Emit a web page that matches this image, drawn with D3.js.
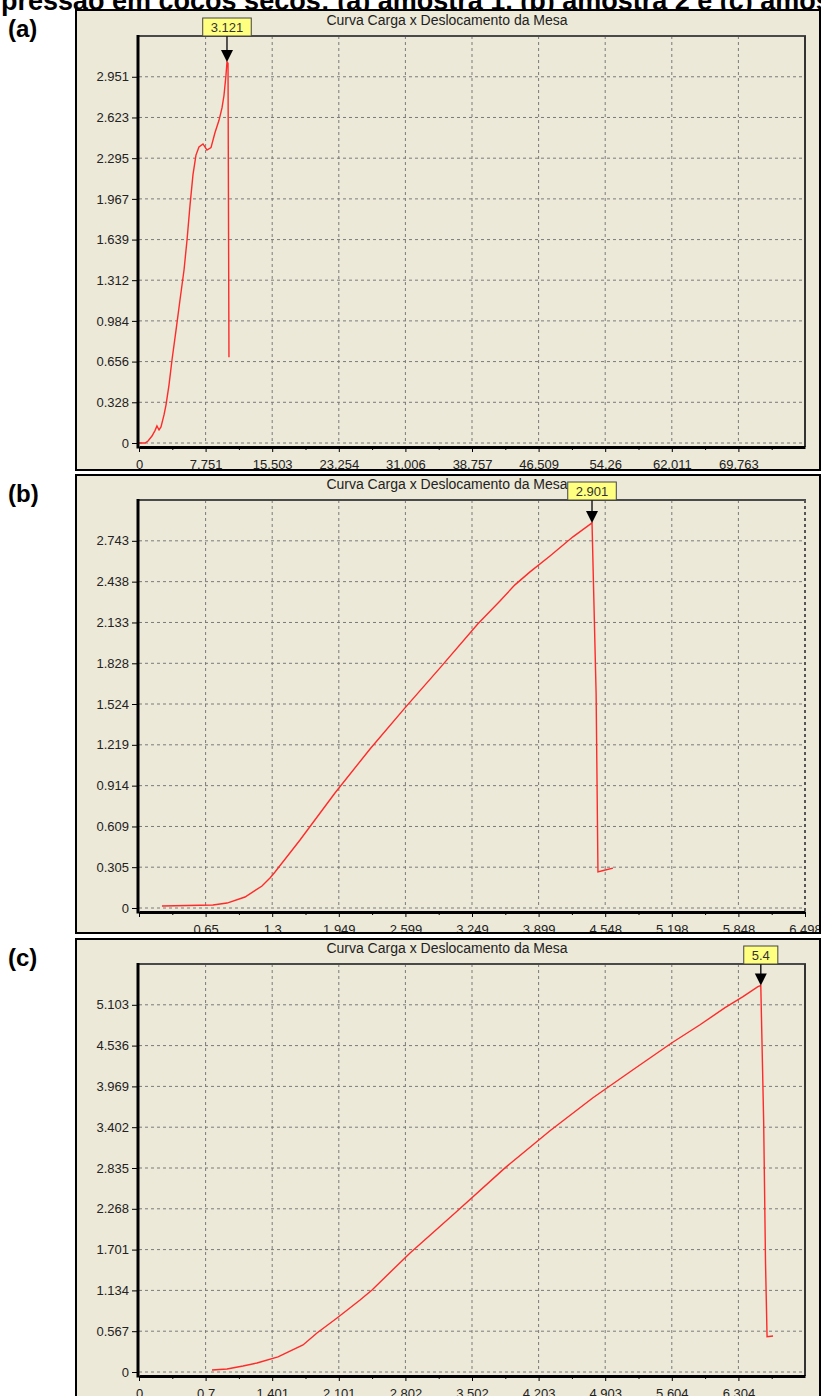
<!DOCTYPE html>
<html>
<head>
<meta charset="utf-8">
<script src="https://cdn.jsdelivr.net/npm/d3@7"></script>
<style>
  body { margin: 0; background: #fff; }
  svg { display: block; }
</style>
</head>
<body>
<div id="chart-area"></div>
<script>
const WIDTH = 821
const HEIGHT = 1396
const FONT = "'Liberation Sans', Arial, sans-serif"

const caption = "pressão em cocos secos: (a) amostra 1, (b) amostra 2 e (c) amostra 3."
const chartTitle = "Curva Carga x Deslocamento da Mesa"

// (a) amostra 1
const xTicksA = ["0", "7.751", "15.503", "23.254", "31.006", "38.757", "46.509", "54.26", "62.011", "69.763"]
const yTicksA = ["0", "0.328", "0.656", "0.984", "1.312", "1.639", "1.967", "2.295", "2.623", "2.951"]
const xMaxA = 77.514
const yMaxA = 3.2795
const peakA = "3.121"
const curveA = [[0, 0], [0.7, 0], [1.05, 0.016], [1.51, 0.056], [1.86, 0.10], [2.09, 0.137], [2.33, 0.105],
  [2.56, 0.13], [2.91, 0.226], [3.14, 0.306], [3.49, 0.467], [3.84, 0.669], [4.31, 0.91], [4.77, 1.152],
  [5.24, 1.394], [5.59, 1.636], [5.94, 1.918], [6.28, 2.16], [6.63, 2.32], [6.98, 2.385], [7.45, 2.41],
  [7.91, 2.36], [8.38, 2.38], [8.84, 2.50], [9.31, 2.60], [9.66, 2.70], [9.89, 2.80], [10.12, 2.96],
  [10.24, 3.07], [10.36, 3.06], [10.47, 0.69]]

// (b) amostra 2
const xTicksB = ["", "0.65", "1.3", "1.949", "2.599", "3.249", "3.899", "4.548", "5.198", "5.848", "6.498"]
const yTicksB = ["0", "0.305", "0.609", "0.914", "1.219", "1.524", "1.828", "2.133", "2.438", "2.743"]
const xMaxB = 6.498
const yMaxB = 3.048
const peakB = "2.901"
const curveB = [[0.224, 0.015], [0.722, 0.022], [0.859, 0.037], [1.034, 0.082], [1.2, 0.164], [1.278, 0.224],
  [1.327, 0.269], [1.571, 0.508], [1.912, 0.859], [2.254, 1.188], [2.595, 1.495], [2.937, 1.794],
  [3.307, 2.123], [3.522, 2.294], [3.668, 2.414], [3.815, 2.511], [4.01, 2.63], [4.234, 2.773],
  [4.42, 2.877], [4.46, 1.6], [4.478, 0.27], [4.53, 0.28], [4.624, 0.298]]

// (c) amostra 3
const xTicksC = ["0", "0.7", "1.401", "2.101", "2.802", "3.502", "4.203", "4.903", "5.604", "6.304"]
const yTicksC = ["0", "0.567", "1.134", "1.701", "2.268", "2.835", "3.402", "3.969", "4.536", "5.103"]
const xMaxC = 7.005
const yMaxC = 5.67
const peakC = "5.4"
const curveC = [[0.768, 0.028], [0.926, 0.042], [1.094, 0.083], [1.241, 0.125], [1.462, 0.209], [1.725, 0.376],
  [1.872, 0.542], [2.083, 0.751], [2.325, 1.001], [2.451, 1.14], [2.851, 1.655], [3.324, 2.211],
  [3.85, 2.837], [4.323, 3.352], [4.775, 3.811], [5.196, 4.2], [5.606, 4.576], [5.901, 4.826],
  [6.164, 5.063], [6.353, 5.216], [6.51, 5.355], [6.54, 5.37], [6.57, 3.5], [6.59, 1.5], [6.606, 0.49],
  [6.669, 0.5]]

const panels = [
  {label: "(a)", top: 10, bottom: 470, plotTop: 36, zeroY: 443, xMax: xMaxA, yMax: yMaxA,
    xTicks: xTicksA, yTicks: yTicksA, curve: curveA, peak: peakA, rightDashed: false},
  {label: "(b)", top: 475, bottom: 933, plotTop: 500, zeroY: 908, xMax: xMaxB, yMax: yMaxB,
    xTicks: xTicksB, yTicks: yTicksB, curve: curveB, peak: peakB, rightDashed: true},
  {label: "(c)", top: 939, bottom: 1402, plotTop: 964, zeroY: 1372, xMax: xMaxC, yMax: yMaxC,
    xTicks: xTicksC, yTicks: yTicksC, curve: curveC, peak: peakC, rightDashed: false}
]

const PLOT_LEFT = 139
const PLOT_RIGHT = 805

const svg = d3.select("#chart-area").append("svg")
  .attr("width", WIDTH)
  .attr("height", HEIGHT)

// caption, cut off by the top of the page
svg.append("text")
  .attr("x", 1)
  .attr("y", 10)
  .attr("font-family", FONT)
  .attr("font-weight", "bold")
  .attr("font-size", 27)
  .attr("fill", "#000")
  .text(caption)

panels.forEach((p, i) => {
  // panel letter
  svg.append("text")
    .attr("x", 8)
    .attr("y", p.top + 27)
    .attr("font-family", FONT)
    .attr("font-weight", "bold")
    .attr("font-size", 24)
    .text(p.label)

  const clipId = "clip" + i
  svg.append("clipPath").attr("id", clipId)
    .append("rect")
    .attr("x", 77).attr("y", p.top + 1)
    .attr("width", 742).attr("height", p.bottom - p.top - 2)

  svg.append("rect")
    .attr("x", 76).attr("y", p.top)
    .attr("width", 744).attr("height", p.bottom - p.top)
    .attr("fill", "#ECE9D8")

  const g = svg.append("g").attr("clip-path", `url(#${clipId})`)

  const x = d3.scaleLinear().domain([0, p.xMax]).range([PLOT_LEFT, PLOT_RIGHT])
  const y = d3.scaleLinear().domain([0, p.yMax]).range([p.zeroY, p.plotTop])
  const axisY = p.zeroY + 4

  const xVals = p.xTicks.map((t, k) => k * p.xMax / 10)
  const yVals = p.yTicks.map(t => +t)

  // title
  g.append("text")
    .attr("x", 447)
    .attr("y", p.plotTop - 11)
    .attr("text-anchor", "middle")
    .attr("font-family", FONT)
    .attr("font-size", 14)
    .attr("fill", "#222")
    .text(chartTitle)

  // grid
  g.selectAll(".hgrid").data(yVals).enter().append("line")
    .attr("x1", PLOT_LEFT).attr("x2", PLOT_RIGHT)
    .attr("y1", d => y(d)).attr("y2", d => y(d))
    .attr("stroke", "#7a7a7a")
    .attr("stroke-dasharray", "3,3")
  g.selectAll(".vgrid").data(xVals.filter(d => d > 0)).enter().append("line")
    .attr("x1", d => x(d)).attr("x2", d => x(d))
    .attr("y1", p.plotTop).attr("y2", p.zeroY)
    .attr("stroke", "#7a7a7a")
    .attr("stroke-dasharray", "3,3")

  // top and right frame of the plot
  g.append("line")
    .attr("x1", PLOT_LEFT).attr("x2", PLOT_RIGHT + 1)
    .attr("y1", p.plotTop).attr("y2", p.plotTop)
    .attr("stroke", "#4a4a4a").attr("stroke-width", 2)
  g.append("line")
    .attr("x1", PLOT_RIGHT).attr("x2", PLOT_RIGHT)
    .attr("y1", p.plotTop).attr("y2", axisY)
    .attr("stroke", p.rightDashed ? "#555" : "#333")
    .attr("stroke-width", 2)
    .attr("stroke-dasharray", p.rightDashed ? "3,3" : null)

  // curve
  const line = d3.line().x(d => x(d[0])).y(d => y(d[1]))
  g.append("path")
    .datum(p.curve)
    .attr("d", line)
    .attr("fill", "none")
    .attr("stroke", "#ff2a2a")
    .attr("stroke-width", 1.4)

  // x axis
  const xAxisCall = d3.axisBottom(x)
    .tickValues(xVals)
    .tickFormat((d, k) => p.xTicks[k])
    .tickSize(5)
    .tickSizeOuter(0)
    .tickPadding(8)
  const xg = g.append("g")
    .attr("transform", `translate(0, ${axisY})`)
    .call(xAxisCall)
  xg.select(".domain").attr("stroke", "#000").attr("stroke-width", 3)
  xg.selectAll("text").attr("font-family", FONT).attr("font-size", 13).attr("fill", "#222")

  const minorVals = d3.range(10).map(k => (k + 0.5) * p.xMax / 10)
  const mg = g.append("g")
    .attr("transform", `translate(0, ${axisY})`)
    .call(d3.axisBottom(x).tickValues(minorVals).tickFormat("").tickSize(3).tickSizeOuter(0))
  mg.select(".domain").remove()

  // y axis
  const yAxisCall = d3.axisLeft(y)
    .tickValues(yVals)
    .tickFormat((d, k) => p.yTicks[k])
    .tickSize(6)
    .tickSizeOuter(0)
    .tickPadding(3)
  const yg = g.append("g")
    .attr("transform", `translate(${PLOT_LEFT - 1}, 0)`)
    .call(yAxisCall)
  yg.select(".domain").remove()
  yg.selectAll("text").attr("font-family", FONT).attr("font-size", 13).attr("fill", "#222")
  g.append("line")
    .attr("x1", PLOT_LEFT - 1).attr("x2", PLOT_LEFT - 1)
    .attr("y1", p.plotTop - 1).attr("y2", axisY + 1.5)
    .attr("stroke", "#000").attr("stroke-width", 3)

  // peak marker
  const top = p.curve.reduce((a, b) => (b[1] > a[1] ? b : a))
  const px = x(top[0])
  const py = y(top[1])
  const mk = g.append("g")
  const mt = mk.append("text")
    .attr("x", px).attr("y", p.plotTop - 4)
    .attr("text-anchor", "middle")
    .attr("font-family", FONT)
    .attr("font-size", 13)
    .attr("fill", "#333")
    .text(p.peak)
  const tw = mt.node().getComputedTextLength()
  mk.insert("rect", "text")
    .attr("x", px - tw / 2 - 8).attr("y", p.plotTop - 18)
    .attr("width", tw + 16).attr("height", 18)
    .attr("fill", "#FFFF80")
    .attr("stroke", "#444")
  mk.append("line")
    .attr("x1", px).attr("x2", px)
    .attr("y1", p.plotTop).attr("y2", py - 11)
    .attr("stroke", "#222").attr("stroke-width", 1.5)
  mk.append("path")
    .attr("d", `M${px - 6},${py - 12}L${px + 6},${py - 12}L${px},${py}Z`)
    .attr("fill", "#000")

  // panel frame
  svg.append("rect")
    .attr("x", 76).attr("y", p.top)
    .attr("width", 744).attr("height", p.bottom - p.top)
    .attr("fill", "none")
    .attr("stroke", "#000")
    .attr("stroke-width", 2)
})
</script>
</body>
</html>
